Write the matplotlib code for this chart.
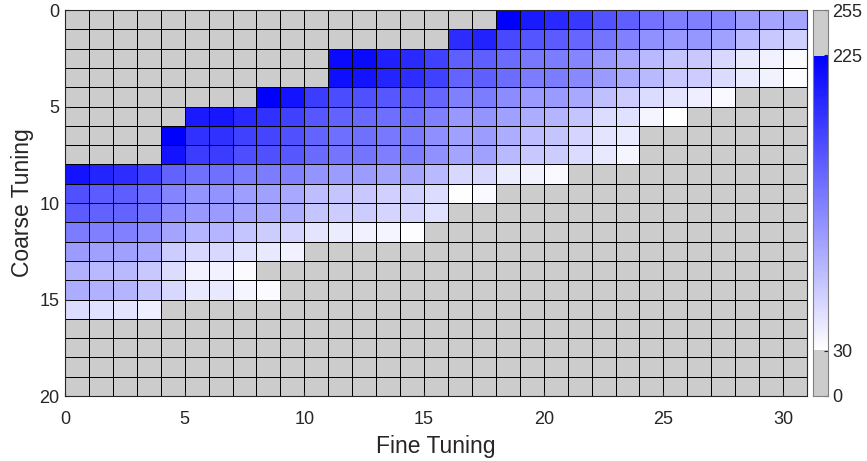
import numpy as np
import matplotlib
matplotlib.use('Agg')
import matplotlib.pyplot as plt
from matplotlib.colors import LinearSegmentedColormap, Normalize

plt.rcParams['font.family'] = ['Liberation Sans', 'DejaVu Sans']

# ---------------- data ----------------
n_fine = 31
n_coarse = 20
x_ticks = [0, 5, 10, 15, 20, 25, 30]
y_ticks = [0, 5, 10, 15, 20]
cbar_ticks = [0, 30, 225, 255]
low_cut, high_cut = 30, 225
above_value = 255   # grey cells before the coloured band (saturated high)
below_value = 0     # grey cells after the coloured band (low)

# first fine-tuning index of the coloured band in each coarse row
row_start = [18, 16, 11, 11, 8, 5, 4, 4, 0, 0, 0, 0, 0, 0, 0, 0, 0, 0, 0, 0]
row_values = [
    [225, 205, 194, 182, 162, 152, 137, 129, 127, 122, 106, 99, 99],
    [191, 199, 170, 160, 155, 147, 136, 126, 115, 109, 110, 103, 84, 72, 66],
    [217, 217, 201, 193, 176, 152, 152, 143, 133, 130, 123, 109, 97, 84, 75, 72, 60, 48, 41, 34],
    [213, 210, 197, 190, 176, 149, 152, 142, 130, 130, 121, 107, 95, 84, 72, 69, 58, 46, 40, 32],
    [225, 210, 179, 167, 164, 158, 156, 147, 127, 130, 118, 107, 107, 97, 78, 69, 57, 51, 43, 35],
    [205, 207, 194, 188, 176, 158, 150, 145, 141, 141, 127, 109, 112, 103, 93, 87, 75, 57, 54, 38, 31],
    [225, 188, 188, 176, 172, 164, 149, 141, 139, 133, 132, 116, 103, 106, 93, 81, 75, 63, 51, 46],
    [210, 179, 179, 165, 164, 158, 144, 136, 136, 129, 130, 115, 100, 103, 84, 72, 69, 58, 48, 38],
    [210, 197, 190, 176, 150, 139, 139, 130, 130, 126, 112, 106, 106, 100, 100, 84, 60, 60, 45, 40, 35],
    [164, 155, 153, 144, 124, 112, 113, 104, 103, 97, 81, 75, 72, 66, 66, 57, 31, 35],
    [155, 150, 149, 139, 119, 109, 107, 100, 97, 93, 75, 69, 69, 63, 63, 54],
    [130, 127, 126, 118, 100, 87, 87, 75, 69, 63, 51, 45, 41, 38, 32],
    [106, 103, 103, 97, 69, 60, 60, 54, 48, 41],
    [90, 84, 84, 72, 57, 41, 41, 34],
    [93, 90, 87, 75, 60, 48, 48, 38, 34],
    [57, 54, 51, 43],
    [], [], [], [],
]

Z = np.full((n_coarse, n_fine), float(below_value))
for r, (s, vals) in enumerate(zip(row_start, row_values)):
    Z[r, :s] = above_value
    Z[r, s:s + len(vals)] = vals

# ---------------- style ----------------
grey = (0.8, 0.8, 0.8)
txt = (0.15, 0.15, 0.15)
cmap = LinearSegmentedColormap.from_list('wb', [(1, 1, 1), (0, 0, 1)], N=256)
cmap.set_under(grey)
cmap.set_over(grey)
norm = Normalize(vmin=low_cut, vmax=high_cut)

fig = plt.figure(figsize=(8.67, 4.61), dpi=100)
ax = fig.add_axes([65 / 867, 1 - 396 / 461, (807 - 65) / 867, (396 - 10) / 461])
xe = np.arange(n_fine + 1)
ye = np.arange(n_coarse + 1)
ax.pcolormesh(xe, ye, Z, cmap=cmap, norm=norm, edgecolors='black', linewidth=0.7)
ax.set_xlim(0, n_fine)
ax.set_ylim(n_coarse, 0)
ax.set_xticks(x_ticks)
ax.set_yticks(y_ticks)
ax.tick_params(direction='in', length=3, colors=txt, labelsize=13)
ax.tick_params(axis='x', pad=10.5)
ax.tick_params(axis='y', pad=4)
for sp in ax.spines.values():
    sp.set_color(txt)
    sp.set_linewidth(0.8)
ax.set_xlabel('Fine Tuning', fontsize=16.5, color=txt, labelpad=5.5)
ax.set_ylabel('Coarse Tuning', fontsize=16.5, color=txt, labelpad=3.5)

# colorbar drawn as a gradient image over the full 0..255 range
cax = fig.add_axes([813 / 867, 1 - 396 / 461, 15 / 867, (396 - 10) / 461])
grad = np.linspace(cbar_ticks[0], cbar_ticks[-1], 1024).reshape(-1, 1)
cax.imshow(grad, cmap=cmap, norm=norm, aspect='auto', origin='lower',
           extent=[0, 1, cbar_ticks[0], cbar_ticks[-1]], interpolation='nearest')
cax.set_xticks([])
cax.set_yticks(cbar_ticks)
cax.yaxis.tick_right()
cax.tick_params(axis='y', direction='in', length=3, colors=txt, labelsize=13, pad=3)
for sp in cax.spines.values():
    sp.set_color((0.5, 0.5, 0.5))
    sp.set_linewidth(0.8)

fig.savefig('out.png', dpi=100)
